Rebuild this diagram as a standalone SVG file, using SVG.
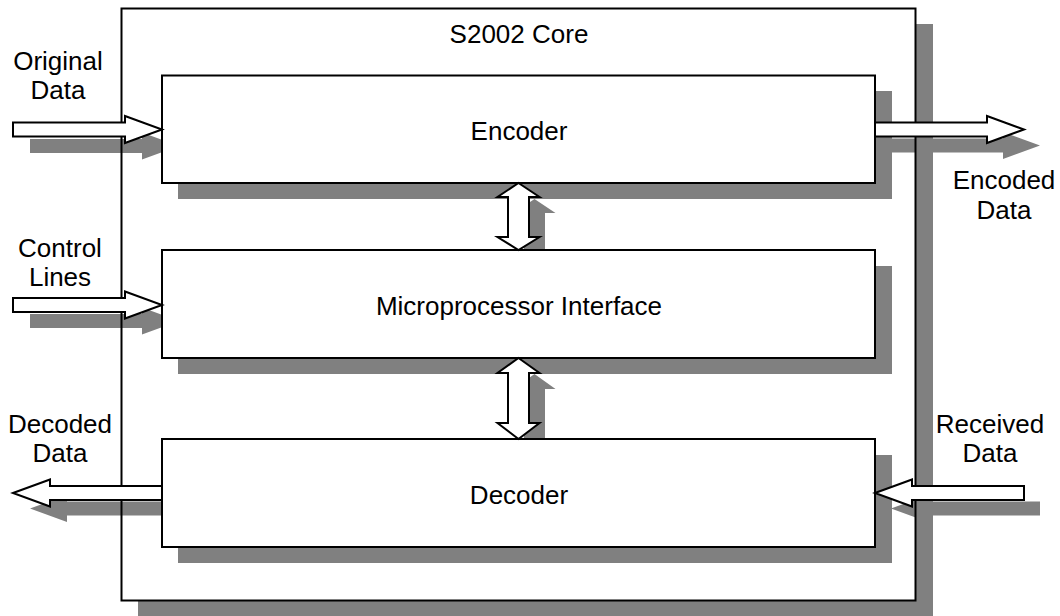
<svg xmlns="http://www.w3.org/2000/svg" width="1060" height="616" viewBox="0 0 1060 616">
<style>
.sh{fill:#808080;stroke:none}
.box{fill:#ffffff;stroke:#000000;stroke-width:2}
.frame{fill:none;stroke:#000000;stroke-width:2}
.arr{fill:#ffffff;stroke:#000000;stroke-width:2;stroke-linejoin:miter}
text{font-family:"Liberation Sans",Arial,sans-serif;font-size:26px;fill:#000000;text-anchor:middle}
</style>
<defs>
<polygon id="rArrow" points="0,-7 112,-7 112,-13.5 149,0 112,13.5 112,7 0,7"/>
<polygon id="lArrow" points="0,0 37,-13.5 37,-7 149,-7 149,7 37,7 37,13.5"/>
</defs>
<rect width="1060" height="616" fill="#ffffff"/>
<g id="core">
<rect class="sh" x="138" y="24" width="795" height="600"/>
<rect x="121.5" y="8.5" width="794" height="592" fill="#ffffff"/>
</g>
<g id="shadows">
<use href="#rArrow" class="sh" transform="translate(30,146)"/>
<use href="#rArrow" class="sh" transform="translate(30,321)"/>
<use href="#rArrow" class="sh" transform="translate(891,145.5)"/>
<use href="#lArrow" class="sh" transform="translate(30,508.5)"/>
<use href="#lArrow" class="sh" transform="translate(891,508.5)"/>
<polygon class="sh" points="534.5,199 555.5,213 545,213 545,253 555.5,253 534.5,266 513.5,253 524,253 524,213 513.5,213"/>
<polygon class="sh" points="534.5,374 555.5,389 545,389 545,439 555.5,439 534.5,455 513.5,439 524,439 524,389 513.5,389"/>
<rect class="sh" x="178" y="91" width="714" height="108"/>
<rect class="sh" x="178" y="266" width="714" height="108"/>
<rect class="sh" x="178" y="455" width="714" height="108"/>
</g>
<rect class="frame" x="121.5" y="8.5" width="794" height="592"/>
<text x="519" y="43">S2002 Core</text>
<g id="encoder">
<rect class="box" x="162" y="75.5" width="713" height="107.5"/>
<text x="519" y="140">Encoder</text>
</g>
<g id="mpi">
<rect class="box" x="162" y="250" width="713" height="108"/>
<text x="519" y="315">Microprocessor Interface</text>
</g>
<g id="decoder">
<rect class="box" x="162" y="439" width="713" height="108"/>
<text x="519" y="504">Decoder</text>
</g>
<g id="connectors">
<use href="#rArrow" class="arr" transform="translate(13,129.5)"/>
<use href="#rArrow" class="arr" transform="translate(13,305)"/>
<use href="#rArrow" class="arr" transform="translate(875,129.5)"/>
<use href="#lArrow" class="arr" transform="translate(13,493)"/>
<use href="#lArrow" class="arr" transform="translate(875,493)"/>
<polygon class="arr" points="518.5,183 539.5,197 529,197 529,237 539.5,237 518.5,250 497.5,237 508,237 508,197 497.5,197"/>
<polygon class="arr" points="518.5,358 539.5,373 529,373 529,423 539.5,423 518.5,439 497.5,423 508,423 508,373 497.5,373"/>
</g>
<g id="labels">
<text x="58" y="70">Original</text>
<text x="58" y="99">Data</text>
<text x="60" y="257">Control</text>
<text x="60" y="286">Lines</text>
<text x="1004" y="189">Encoded</text>
<text x="1004" y="219">Data</text>
<text x="60" y="433">Decoded</text>
<text x="60" y="462">Data</text>
<text x="990" y="433">Received</text>
<text x="990" y="462">Data</text>
</g>
</svg>
